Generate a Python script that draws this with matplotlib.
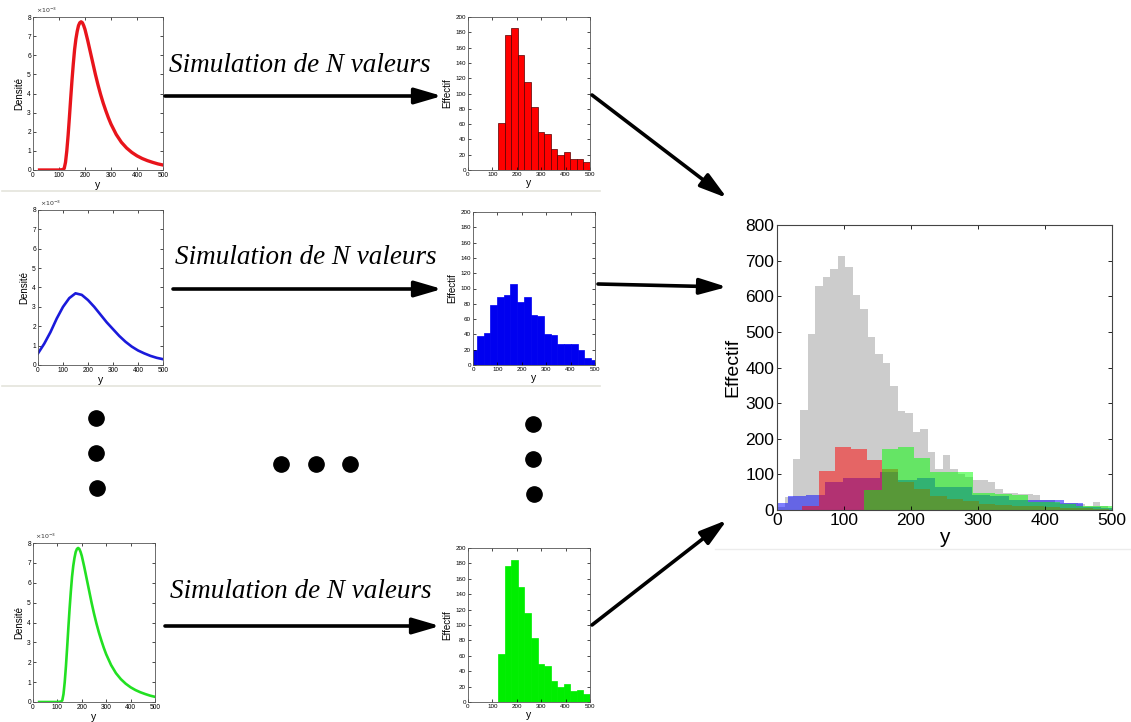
import numpy as np
import matplotlib
matplotlib.use("Agg")
import matplotlib.pyplot as plt

plt.rcParams["font.family"] = ["Liberation Sans", "DejaVu Sans"]

# densites (y, densite en 1e-3)
red_x = [25, 100, 115, 120, 125, 130, 135, 140, 145, 150, 155, 160, 165, 170, 175, 180,
         185, 190, 195, 200, 210, 220, 230, 240, 250, 260, 270, 280, 290, 300,
         320, 340, 360, 380, 400, 420, 440, 460, 480, 500]
red_d = [0, 0, 0.02, 0.08, 0.4, 1.0, 1.8, 2.75, 3.75, 4.7, 5.55, 6.3, 6.85, 7.25, 7.55, 7.7,
         7.75, 7.7, 7.55, 7.35, 6.8, 6.2, 5.6, 5.0, 4.45, 3.95, 3.5, 3.1, 2.73, 2.4,
         1.86, 1.45, 1.15, 0.92, 0.74, 0.6, 0.49, 0.4, 0.32, 0.26]
blue_x = [0, 25, 50, 75, 100, 125, 150, 175, 200, 225, 250, 275, 300, 325, 350,
          375, 400, 425, 450, 475, 500]
blue_d = [0.6, 1.1, 1.7, 2.4, 3.0, 3.45, 3.7, 3.62, 3.35, 3.0, 2.6, 2.2, 1.85, 1.5,
          1.2, 0.95, 0.75, 0.6, 0.47, 0.37, 0.3]
green_x = red_x
green_d = red_d

# histogrammes simules (effectifs)
red_edges = [123, 150, 177, 204, 231, 258, 285, 312, 339, 366, 392, 419, 446, 473, 500]
red_counts = [62, 177, 185, 150, 115, 83, 50, 47, 27, 19, 23, 14, 15, 10]
blue_edges = [-11.5, 16, 43.5, 71, 98.5, 126, 153.5, 181, 208.5, 236, 263.5, 291,
              318.5, 346, 373.5, 401, 428.5, 456, 483.5, 511]
blue_counts = [20, 38, 42, 79, 89, 91, 106, 83, 89, 65, 64, 41, 39, 28, 27, 27, 19, 9, 7]
green_edges = red_edges
green_counts = red_counts

# histogramme global
gray_edges = [0.8 + 11.2 * k for k in range(46)]
gray_counts = [8, 37, 142, 281, 494, 630, 655, 676, 714, 682, 604, 565, 487, 438, 412,
               349, 279, 271, 220, 226, 162, 114, 154, 114, 101, 92, 84, 84, 78, 60,
               47, 47, 45, 45, 42, 28, 28, 19, 19, 19, 17, 12, 23, 11, 6]
red_big_edges = [38, 62, 87, 110, 134, 157, 181, 205, 229, 254, 278, 302, 326, 350,
                 375, 399, 423, 447, 471, 496]
red_big_counts = [10, 109, 178, 171, 140, 115, 80, 60, 40, 30, 25, 18, 15, 12, 10, 8, 6, 5, 4]
green_big_edges = [130, 157, 181, 205, 229, 254, 278, 293, 326, 350, 375, 399, 423,
                   447, 471, 500]
green_big_counts = [56, 170, 178, 145, 108, 108, 108, 47, 45, 42, 23, 23, 17, 11, 11]

W, H = 1131, 722
fig = plt.figure(figsize=(W / 100, H / 100), dpi=100)
fig.patch.set_facecolor("white")


def box(l, t, r, b):
    return [l / W, 1 - b / H, (r - l) / W, (b - t) / H]


def matlab_style(ax, fs):
    ax.tick_params(direction="in", top=True, right=True, labelsize=fs,
                   length=2, width=0.5, pad=1.5)
    for s in ax.spines.values():
        s.set_linewidth(0.6)
        s.set_color("#555555")


def density(pos, x, d, col, lw):
    ax = fig.add_axes(box(*pos))
    ax.plot(x, np.array(d) * 1e-3, color=col, lw=lw, solid_joinstyle="round")
    ax.set_xlim(0, 500)
    ax.set_ylim(0, 8e-3)
    ax.set_xticks(range(0, 501, 100))
    ax.set_yticks(np.arange(0, 9) * 1e-3)
    ax.set_yticklabels([str(i) for i in range(9)])
    matlab_style(ax, 4.8)
    ax.set_ylabel("Densité", fontsize=7, labelpad=2)
    ax.set_xlabel("y", fontsize=7.5, labelpad=1)
    ax.text(0.02, 1.01, r"$\times10^{-3}$", transform=ax.transAxes,
            fontsize=4.5, va="bottom", ha="left", color="#333333")
    return ax


def small_hist(pos, edges, counts, col, ec):
    ax = fig.add_axes(box(*pos))
    e = np.array(edges)
    ax.bar(e[:-1], counts, width=np.diff(e), align="edge", color=col,
           edgecolor=ec, linewidth=0.5)
    ax.set_xlim(0, 500)
    ax.set_ylim(0, 200)
    ax.set_xticks(range(0, 501, 100))
    ax.set_yticks(range(0, 201, 20))
    matlab_style(ax, 4.5)
    ax.set_ylabel("Effectif", fontsize=7, labelpad=2)
    ax.set_xlabel("y", fontsize=7.5, labelpad=1)
    return ax


density((33, 17, 163, 170), red_x, red_d, "#e8141b", 2.4)
small_hist((468, 17, 590, 170), red_edges, red_counts, "#ff0000", "#550000")
density((38, 210, 163, 365), blue_x, blue_d, "#1a1adb", 1.9)
small_hist((473, 212, 595, 365), blue_edges, blue_counts, "#0000f0", "#0000f0")
density((33, 543, 155, 702), green_x, green_d, "#22e022", 1.9)
small_hist((468, 548, 590, 702), green_edges, green_counts, "#00ee00", "#00ee00")

# histogramme global
ax = fig.add_axes(box(777, 225, 1112, 510))
ax.stairs(gray_counts, gray_edges, fill=True, color="#cccccc")
ax.stairs(blue_counts, blue_edges, fill=True, color="#0000ff", alpha=0.5)
ax.stairs(red_big_counts, red_big_edges, fill=True, color="#ff0000", alpha=0.5)
ax.stairs(green_big_counts, green_big_edges, fill=True, color="#00ff00", alpha=0.5)
ax.set_xlim(0, 500)
ax.set_ylim(0, 800)
ax.set_xticks(range(0, 501, 100))
ax.set_yticks(range(0, 801, 100))
ax.tick_params(direction="in", top=True, right=True, labelsize=12.5,
               length=3, width=0.6, pad=2)
for s in ax.spines.values():
    s.set_linewidth(0.8)
    s.set_color("#444444")
ax.set_ylabel("Effectif", fontsize=14, labelpad=3)
ax.set_xlabel("y", fontsize=15, labelpad=0)

# calque pour fleches, textes et points
ov = fig.add_axes([0, 0, 1, 1], zorder=10)
ov.set_xlim(0, W)
ov.set_ylim(H, 0)
ov.axis("off")
ov.patch.set_alpha(0)

for y in (191, 386):
    ov.plot([2, 600], [y, y], color="#e4e4dc", lw=1.2)
ov.plot([715, 1131], [549, 549], color="#ececec", lw=1)

arrows = [((165, 96), (442, 96)), ((173, 289), (442, 289)), ((165, 626), (440, 626)),
          ((592, 95), (727, 198)), ((598, 284), (727, 287)), ((592, 625), (727, 520))]
for a, b in arrows:
    ov.annotate("", xy=b, xytext=a,
                arrowprops=dict(arrowstyle="-|>,head_length=0.75,head_width=0.22",
                                lw=2.6, color="black",
                                mutation_scale=22, shrinkA=0, shrinkB=0))

for (x, y) in [(300, 66), (306, 257), (301, 592)]:
    ov.text(x, y, "Simulation de N valeurs", family="Liberation Serif",
            style="italic", fontsize=19.5, ha="center", va="center")

dots = [(96, 418), (96, 453), (97, 488), (281, 464), (316, 464), (350, 464),
        (533, 424), (533, 459), (534, 494)]
ov.plot([d[0] for d in dots], [d[1] for d in dots], "o", ms=11, color="black")

fig.savefig("out.png", dpi=100)
